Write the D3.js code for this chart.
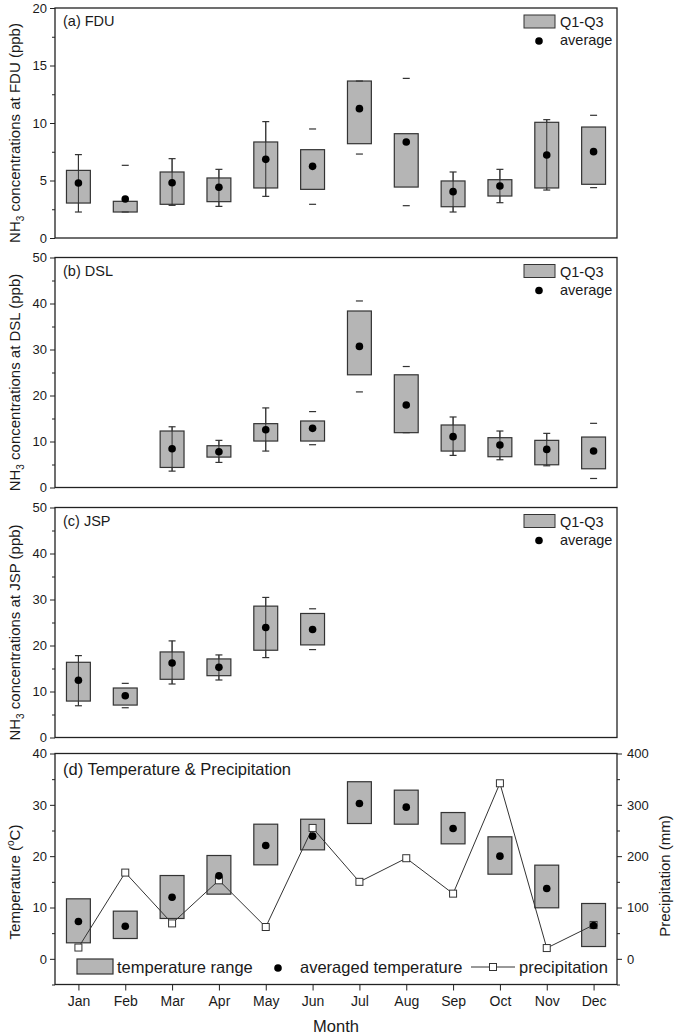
<!DOCTYPE html>
<html><head><meta charset="utf-8">
<script src="https://cdn.jsdelivr.net/npm/d3@7"></script>
<style>
body{margin:0;background:#fff}
svg{display:block}
text{font-family:"Liberation Sans",Arial,sans-serif;fill:#1a1a1a}
</style>
</head><body>
<svg id="chart" width="675" height="1036"></svg>
<script>
// ---------------- DATA ----------------
const months = ["Jan","Feb","Mar","Apr","May","Jun","Jul","Aug","Sep","Oct","Nov","Dec"];

// (a) FDU
const fduQ1   = [3.04, 2.26, 2.93, 3.16, 4.35, 4.23, 8.20, 4.43, 2.72, 3.65, 4.35, 4.67];
const fduQ3   = [5.88, 3.19, 5.74, 5.22, 8.35, 7.68, 13.65, 9.07, 4.96, 5.07, 10.06, 9.65];
const fduAvg  = [4.78, 3.39, 4.81, 4.41, 6.84, 6.23, 11.25, 8.35, 4.03, 4.52, 7.22, 7.51];
const fduLow  = [2.26, 2.26, 2.84, 2.75, 3.62, 2.93, 7.30, 2.81, 2.26, 3.07, 4.17, 4.38];
const fduHigh = [7.25, 6.32, 6.90, 5.97, 10.12, 9.48, 13.65, 13.88, 5.74, 5.97, 10.29, 10.67];
const fduWhiskerLine = [1,0,1,1,1,0,0,0,1,1,1,0];

// (b) DSL
const dslQ1   = [null, null, 4.36, 6.61, 10.10, 10.10, 24.50, 11.92, 7.92, 6.69, 4.94, 4.07];
const dslQ3   = [null, null, 12.28, 9.08, 13.88, 14.46, 38.37, 24.50, 13.59, 10.83, 10.25, 10.97];
const dslAvg  = [null, null, 8.43, 7.78, 12.57, 12.86, 30.67, 17.95, 11.05, 9.23, 8.28, 7.92];
const dslLow  = [null, null, 3.56, 5.45, 7.92, 9.30, 20.78, 11.92, 6.98, 6.03, 4.72, 1.96];
const dslHigh = [null, null, 13.20, 10.25, 17.30, 16.50, 40.55, 26.30, 15.33, 12.28, 11.77, 13.95];
const dslWhiskerLine = [0,0,1,1,1,0,0,0,1,1,1,0];

// (c) JSP
const jspQ1   = [7.92, 7.05, 12.65, 13.44, 18.97, 20.13, null, null, null, null, null, null];
const jspQ3   = [16.35, 10.76, 18.60, 17.08, 28.56, 26.96, null, null, null, null, null, null];
const jspAvg  = [12.43, 9.08, 16.20, 15.26, 23.90, 23.47, null, null, null, null, null, null];
const jspLow  = [6.90, 6.47, 11.63, 12.50, 17.37, 19.11, null, null, null, null, null, null];
const jspHigh = [17.80, 11.77, 21.00, 17.95, 30.45, 27.98, null, null, null, null, null, null];
const jspWhiskerLine = [1,0,1,1,1,0,0,0,0,0,0,0];

// (d) Temperature & Precipitation
const tempMin = [3.12, 3.96, 7.86, 12.60, 18.31, 21.23, 26.36, 26.23, 22.40, 16.49, 9.94, 2.40];
const tempMax = [11.69, 9.29, 16.23, 20.13, 26.23, 27.20, 34.50, 32.86, 28.50, 23.77, 18.25, 10.78];
const tempAvg = [7.27, 6.36, 12.01, 16.17, 22.08, 23.90, 30.26, 29.55, 25.39, 20.00, 13.70, 6.49];
const precip  = [22, 168, 69, 153, 62, 255, 150, 196, 127, 342, 21, 66];

// tick values
const ticksA = [0,5,10,15,20], minorA = [2.5,7.5,12.5,17.5];
const ticksBC = [0,10,20,30,40,50], minorBC = [5,15,25,35,45];
const ticksTemp = [0,10,20,30,40], minorTemp = [-5,5,15,25,35];
const ticksPrec = [0,100,200,300,400], minorPrec = [-50,50,150,250,350];

// ---------------- DRAW ----------------
const svg = d3.select("#chart");
const L = 55, R = 617;
const x = d3.scaleLinear().domain([0.5, 12.5]).range([L, R]);
const idx = months.map((m,i)=>i+1);
const boxW = (x(2)-x(1))*0.51;
const capW = 7;
const FILL = "#b5b5b5", DARK = "#222";

function leftAxis(y, major, minor, fmt) {
  const g = svg.append("g").attr("transform", `translate(${L},0)`);
  g.call(d3.axisLeft(y).tickValues(minor).tickSize(3).tickFormat(""))
   .call(s=>s.select(".domain").remove());
  const g2 = svg.append("g").attr("transform", `translate(${L},0)`);
  g2.call(d3.axisLeft(y).tickValues(major).tickSize(5).tickPadding(3).tickFormat(fmt || d3.format("d")))
    .call(s=>s.select(".domain").remove());
  svg.selectAll(".tick line").attr("stroke", DARK);
  g2.selectAll("text").style("font-size","13px").attr("fill","#1a1a1a");
}

function frame(top, bottom) {
  svg.append("rect").attr("x", L).attr("y", top).attr("width", R-L).attr("height", bottom-top)
    .attr("fill","none").attr("stroke", DARK).attr("stroke-width", 1.3);
}

function yLabel(parts, cx, cy) {
  const t = svg.append("text").attr("transform", `translate(${cx},${cy}) rotate(-90)`)
    .attr("text-anchor","middle").style("font-size","15px");
  parts.forEach(p => {
    const ts = t.append("tspan").text(p.t);
    if (p.sub) ts.attr("dy", 4).style("font-size","10px");
    if (p.sup) ts.attr("dy", -6).style("font-size","10px");
    if (p.back) ts.attr("dy", p.back);
  });
}

function boxPanel(top, bottom, domainMax, major, minor, q1, q3, avg, lo, hi, wline, title, site) {
  const y = d3.scaleLinear().domain([0, domainMax]).range([bottom, top]);
  leftAxis(y, major, minor);
  const g = svg.append("g");
  idx.forEach((m,i) => {
    if (q1[i] == null) return;
    const cx = x(m);
    if (wline[i]) {
      g.append("line").attr("x1",cx).attr("x2",cx).attr("y1",y(lo[i])).attr("y2",y(hi[i]))
        .attr("stroke","#333").attr("stroke-width",1);
    }
    g.append("rect").attr("x", cx-boxW/2).attr("y", y(q3[i])).attr("width", boxW)
      .attr("height", y(q1[i])-y(q3[i])).attr("fill", FILL).attr("stroke","#333").attr("stroke-width",1.2);
    if (wline[i]) {
      g.append("line").attr("x1",cx).attr("x2",cx).attr("y1",y(lo[i])).attr("y2",y(hi[i]))
        .attr("stroke","#333").attr("stroke-width",1);
    }
    [lo[i], hi[i]].forEach(v => {
      g.append("line").attr("x1",cx-capW/2).attr("x2",cx+capW/2).attr("y1",y(v)).attr("y2",y(v))
        .attr("stroke","#333").attr("stroke-width",1.2);
    });
    g.append("circle").attr("cx",cx).attr("cy",y(avg[i])).attr("r",3.8).attr("fill","#000");
  });
  frame(top, bottom);
  svg.append("text").attr("x", L+8).attr("y", top+18).style("font-size","14.5px").text(title);
  // legend
  svg.append("rect").attr("x", 524).attr("y", top+7).attr("width", 31).attr("height", 13)
    .attr("fill", FILL).attr("stroke","#333").attr("stroke-width",1);
  svg.append("text").attr("x", 560).attr("y", top+19).style("font-size","14.5px").text("Q1-Q3");
  svg.append("circle").attr("cx", 539).attr("cy", top+33).attr("r", 3.8).attr("fill","#000");
  svg.append("text").attr("x", 560).attr("y", top+37).style("font-size","14.5px").text("average");
  yLabel([{t:"NH"},{t:"3",sub:true},{t:` concentrations at ${site} (ppb)`,back:-4}], 20, (top+bottom)/2+10);
}

boxPanel(8, 238, 20, ticksA, minorA, fduQ1, fduQ3, fduAvg, fduLow, fduHigh, fduWhiskerLine, "(a) FDU", "FDU");
boxPanel(257.5, 487.5, 50, ticksBC, minorBC, dslQ1, dslQ3, dslAvg, dslLow, dslHigh, dslWhiskerLine, "(b) DSL", "DSL");
boxPanel(507.5, 737.5, 50, ticksBC, minorBC, jspQ1, jspQ3, jspAvg, jspLow, jspHigh, jspWhiskerLine, "(c) JSP", "JSP");

// panel d
const dTop = 753.5, dBot = 984.5;
const yT = d3.scaleLinear().domain([-5, 40]).range([dBot, dTop]);
const yP = d3.scaleLinear().domain([-50, 400]).range([dBot, dTop]);
leftAxis(yT, ticksTemp, minorTemp);
{
  const gm = svg.append("g").attr("transform", `translate(${R},0)`);
  gm.call(d3.axisRight(yP).tickValues(minorPrec).tickSize(3).tickFormat("")).call(s=>s.select(".domain").remove());
  const gr = svg.append("g").attr("transform", `translate(${R},0)`);
  gr.call(d3.axisRight(yP).tickValues(ticksPrec).tickSize(5).tickPadding(5).tickFormat(d3.format("d")))
    .call(s=>s.select(".domain").remove());
  gr.selectAll("text").style("font-size","13px").attr("fill","#1a1a1a");
  const gx = svg.append("g").attr("transform", `translate(0,${dBot})`);
  gx.call(d3.axisBottom(x).tickValues(idx).tickSize(6).tickPadding(6).tickFormat(i=>months[i-1]))
    .call(s=>s.select(".domain").remove());
  gx.selectAll("text").style("font-size","14px").attr("fill","#1a1a1a");
  svg.selectAll(".tick line").attr("stroke", DARK);
}
const gd = svg.append("g");
idx.forEach((m,i) => {
  gd.append("rect").attr("x", x(m)-boxW/2).attr("y", yT(tempMax[i])).attr("width", boxW)
    .attr("height", yT(tempMin[i])-yT(tempMax[i])).attr("fill", FILL).attr("stroke","#333").attr("stroke-width",1.2);
});
gd.append("path").datum(precip)
  .attr("d", d3.line().x((d,i)=>x(i+1)).y(d=>yP(d)))
  .attr("fill","none").attr("stroke","#333").attr("stroke-width",1);
idx.forEach((m,i) => {
  gd.append("rect").attr("x", x(m)-3.5).attr("y", yP(precip[i])-3.5).attr("width",7).attr("height",7)
    .attr("fill","#fff").attr("stroke","#333").attr("stroke-width",1);
});
idx.forEach((m,i) => {
  gd.append("circle").attr("cx", x(m)).attr("cy", yT(tempAvg[i])).attr("r",3.8).attr("fill","#000");
});
frame(dTop, dBot);
svg.append("text").attr("x", L+8).attr("y", dTop+21.5).style("font-size","16.5px").text("(d) Temperature & Precipitation");
// legend d
svg.append("rect").attr("x", 77).attr("y", 959).attr("width", 36).attr("height", 15)
  .attr("fill", FILL).attr("stroke","#333").attr("stroke-width",1.2);
svg.append("text").attr("x", 117).attr("y", 972.5).style("font-size","16.5px").text("temperature range");
svg.append("circle").attr("cx", 278).attr("cy", 968).attr("r", 3.8).attr("fill","#000");
svg.append("text").attr("x", 300).attr("y", 972.5).style("font-size","16.5px").text("averaged temperature");
svg.append("line").attr("x1", 471).attr("x2", 515).attr("y1", 967).attr("y2", 967).attr("stroke","#333");
svg.append("rect").attr("x", 489.5).attr("y", 963.5).attr("width",7).attr("height",7)
  .attr("fill","#fff").attr("stroke","#333");
svg.append("text").attr("x", 519).attr("y", 972.5).style("font-size","16.5px").text("precipitation");

yLabel([{t:"Temperature ("},{t:"o",sup:true},{t:"C)",back:6}], 20, 882);
svg.append("text").attr("transform", "translate(670,876) rotate(-90)").attr("text-anchor","middle")
  .style("font-size","15px").text("Precipitation (mm)");
svg.append("text").attr("x", 336).attr("y", 1032).attr("text-anchor","middle").style("font-size","16.5px").text("Month");
</script>
</body></html>
